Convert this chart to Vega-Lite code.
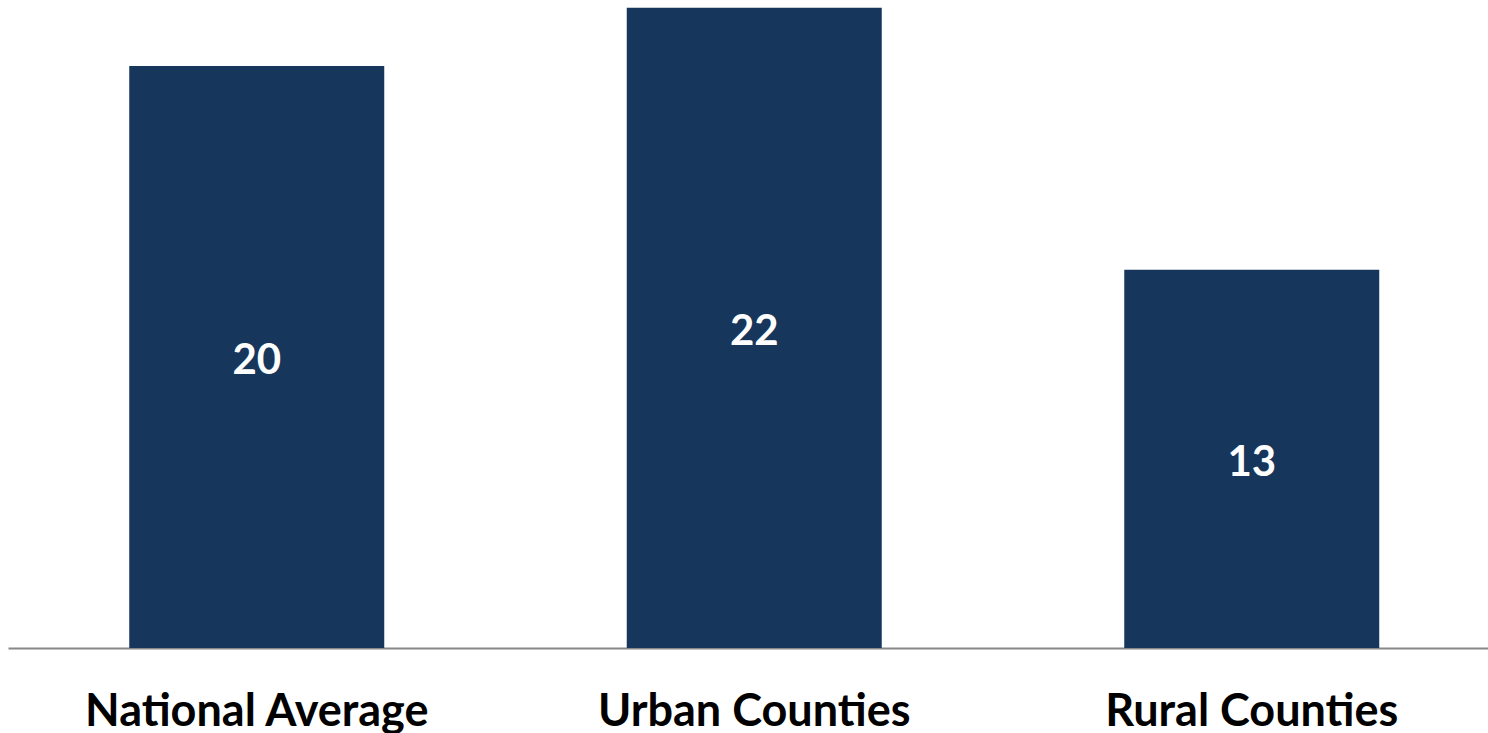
{
  "$schema": "https://vega.github.io/schema/vega-lite/v6.json",
  "autosize": "none",
  "width": 1480,
  "height": 648,
  "padding": {"left": 8, "top": 0, "right": 0, "bottom": 85},
  "background": "white",
  "config": {"view": {"stroke": null}},
  "data": {
    "values": [
      {"group": "National Average", "value": 20},
      {"group": "Urban Counties", "value": 22},
      {"group": "Rural Counties", "value": 13}
    ]
  },
  "encoding": {
    "x": {
      "field": "group",
      "type": "nominal",
      "sort": null,
      "scale": {"range": [0, 1492.5], "paddingInner": 0.48744, "paddingOuter": 0.24372},
      "axis": {
        "title": null,
        "labelAngle": 0,
        "ticks": false,
        "labelFont": "Lato",
        "labelFontWeight": "bold",
        "labelFontSize": 45,
        "labelColor": "#000000",
        "labelPadding": 41,
        "labelBaseline": "top",
        "labelLimit": 0,
        "labelOverlap": false,
        "labelFlush": false,
        "domainColor": "#878787",
        "domainWidth": 2
      }
    }
  },
  "layer": [
    {
      "mark": {"type": "bar", "color": "#17365C"},
      "encoding": {
        "y": {
          "field": "value",
          "type": "quantitative",
          "scale": {"domain": [0, 22.27], "nice": false},
          "axis": null
        }
      }
    },
    {
      "transform": [{"calculate": "datum.value / 2", "as": "half"}],
      "mark": {
        "type": "text",
        "color": "white",
        "font": "Lato",
        "fontWeight": "bold",
        "fontSize": 42,
        "baseline": "middle",
        "align": "center",
        "dy": 4
      },
      "encoding": {
        "y": {"field": "half", "type": "quantitative"},
        "text": {"field": "value", "type": "quantitative", "format": "d"}
      }
    }
  ]
}
